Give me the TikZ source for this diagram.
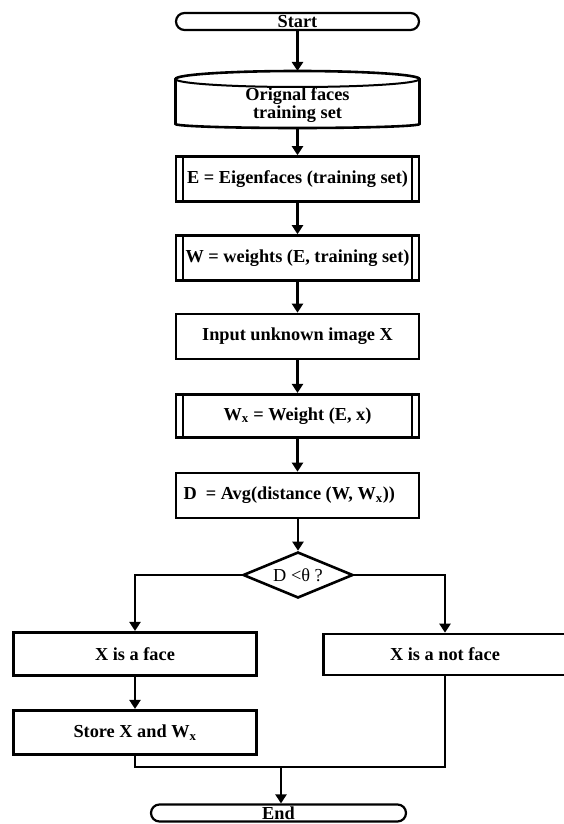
\documentclass[tikz,border=0pt]{standalone}
\usepackage{fontspec}
\setmainfont{Liberation Serif}
\usetikzlibrary{arrows.meta,shapes.geometric,calc}
\begin{document}
\begin{tikzpicture}[x=1pt,y=1pt,
  txt/.style={font=\bfseries\fontsize{18.3}{16}\selectfont},
  box/.style={draw, line width=2.6pt, minimum width=243pt, minimum height=45pt, inner sep=0pt, txt},
  term/.style={draw, line width=2.2pt, rounded corners=8.5pt, minimum height=17pt, inner sep=0pt, txt},
  inner/.style={line width=2pt},
  conn/.style={line width=2.2pt},
  arr/.style={conn, -{Triangle[length=9pt,width=11pt]}}
]
\useasboundingbox (0,0) rectangle (564,-824);
\fill[white] (0,0) rectangle (564,-824);

% Start
\node[term, minimum width=243pt] (start) at (297.5,-21.5) {Start};

% Cylinder (drawn) with text node
\draw[line width=2.6pt] (175.5,-79) -- (175.5,-124)
  arc[start angle=180,end angle=360,x radius=122,y radius=4]
  -- (419.5,-79)
  arc[start angle=0,end angle=180,x radius=122,y radius=8] -- cycle;
\draw[line width=2pt] (175.5,-79) arc[start angle=180,end angle=360,x radius=122,y radius=8];
\node[txt, align=center] (cyl) at (297.5,-105) {Orignal faces\\training set};
\coordinate (cyltop) at (297.5,-71);
\coordinate (cylbot) at (297.5,-128);

% Process boxes
\node[box] (e) at (297.5,-179) {E = Eigenfaces (training set)};
\node[box] (w) at (297.5,-258) {W = weights (E, training set)};
\node[box] (inp) at (297.5,-336.5) {Input unknown image X};
\node[box, minimum height=43.5pt] (wx) at (297.5,-416) {W\textsubscript{x} = Weight (E, x)};
\node[box] (d) at (297.5,-495.5) {\makebox[228pt][l]{D\ \ = Avg(distance (W, W\textsubscript{x}))}};

\foreach \n in {e,w,wx}{
  \draw[inner] ([xshift=8pt]\n.north west) -- ([xshift=8pt]\n.south west);
  \draw[inner] ([xshift=-8pt]\n.north east) -- ([xshift=-8pt]\n.south east);
}

% Decision
\node[diamond, draw, line width=2.6pt, aspect=2.4, minimum width=110pt, minimum height=46pt, inner sep=0pt,
      font=\fontsize{18.3}{16}\selectfont] (dia) at (298,-575) {D <θ ?};

% Branches
\node[box, minimum height=43.5pt] (face) at (135,-654) {X is a face};
\node[box, minimum height=41pt] (notface) at (445,-654.5) {X is a not face};
\node[box, minimum height=44.5pt] (store) at (135,-732.5) {Store X and W\textsubscript{x}};

% End
\node[term, minimum width=255pt] (end) at (278.5,-813) {End};

% Connectors
\draw[arr] (start) -- (cyltop);
\draw[arr] (cylbot) -- (e);
\draw[arr] (e) -- (w);
\draw[arr] (w) -- (inp);
\draw[arr] (inp) -- (wx);
\draw[arr] (wx) -- (d);
\draw[arr] (d.south -| dia.north) -- (dia.north);
\draw[arr] (dia.west) -| (face.north);
\draw[arr] (dia.east) -| (notface.north);
\draw[arr] (face) -- (store);
\coordinate (m) at (281,-767);
\draw[conn] (store.south) |- (m) -| (notface.south);
\draw[arr] (m) -- (m |- end.north);
\end{tikzpicture}
\end{document}
